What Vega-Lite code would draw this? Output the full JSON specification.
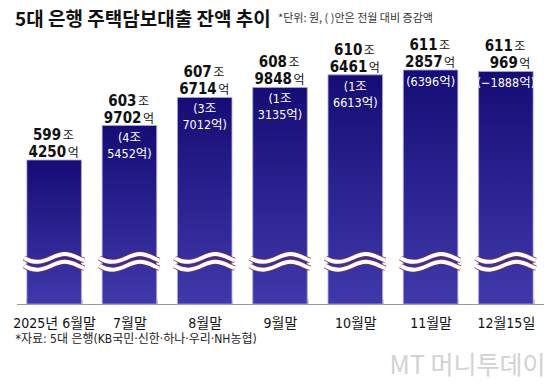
{
  "$schema": "https://vega.github.io/schema/vega-lite/v6.json",
  "width": 527,
  "height": 246,
  "autosize": "none",
  "padding": {"left": 16.5, "right": 16.5, "top": 58, "bottom": 80},
  "background": "white",
  "config": {"view": {"stroke": null}, "font": "Noto Sans CJK KR"},
  "title": {
    "text": "5대 은행 주택담보대출 잔액 추이",
    "anchor": "start",
    "frame": "group",
    "fontSize": 19,
    "fontWeight": "bold",
    "font": "Noto Sans CJK KR",
    "color": "#111111",
    "dx": -1.5,
    "dy": 18,
    "offset": 0
  },
  "data": {
    "values": [
      {"label": "2025년 6월말", "total": 599.425, "jo": "599", "eok": "4250", "chg": ""},
      {"label": "7월말", "total": 603.9702, "jo": "603", "eok": "9702", "chg": "(4조\n5452억)"},
      {"label": "8월말", "total": 607.6714, "jo": "607", "eok": "6714", "chg": "(3조\n7012억)"},
      {"label": "9월말", "total": 608.9848, "jo": "608", "eok": "9848", "chg": "(1조\n3135억)"},
      {"label": "10월말", "total": 610.6461, "jo": "610", "eok": "6461", "chg": "(1조\n6613억)"},
      {"label": "11월말", "total": 611.2857, "jo": "611", "eok": "2857", "chg": "(6396억)"},
      {"label": "12월15일", "total": 611.0969, "jo": "611", "eok": "969", "chg": "(−1888억)"}
    ]
  },
  "encoding": {
    "x": {
      "field": "label",
      "type": "nominal",
      "sort": null,
      "scale": {"paddingInner": 0.276, "paddingOuter": 0.138},
      "axis": {
        "title": "*자료: 5대 은행(KB국민·신한·하나·우리·NH농협)",
        "labelAngle": 0,
        "labelFontSize": 14,
        "labelColor": "#111111",
        "labelFont": "DejaVu Sans Condensed, Noto Sans CJK KR, sans-serif",
        "labelPadding": 17,
        "tickBand": "extent",
        "tickSize": -5,
        "tickColor": "#999999",
        "domainColor": "#999999",
        "titleAnchor": "start",
        "titleAlign": "left",
        "titleX": -1.5,
        "titleY": 38,
        "titleBaseline": "alphabetic",
        "titleFontSize": 12,
        "titleFontWeight": "normal",
        "titleColor": "#222222",
        "titleFont": "DejaVu Sans Condensed, Noto Sans CJK KR, sans-serif"
      }
    }
  },
  "layer": [
    {
      "mark": {
        "type": "bar",
        "fill": {
          "gradient": "linear",
          "x1": 0, "y1": 0, "x2": 0, "y2": 1,
          "stops": [
            {"offset": 0, "color": "#150c75"},
            {"offset": 1, "color": "#4039aa"}
          ]
        },
        "stroke": "#a8a5df",
        "strokeWidth": 0.8
      },
      "encoding": {
        "y": {
          "field": "total",
          "type": "quantitative",
          "scale": {"domain": [580.448, 612.868], "zero": false, "nice": false},
          "axis": {
            "title": "*단위: 원, ( )안은 전월 대비 증감액",
            "titleAngle": 0,
            "titleAlign": "left",
            "titleX": 261,
            "titleY": -37,
            "titleBaseline": "alphabetic",
            "titleFontSize": 11,
            "titleFontWeight": "normal",
            "titleColor": "#333333",
            "titleFont": "Noto Sans CJK KR",
            "labels": false,
            "ticks": false,
            "domain": false,
            "grid": false
          }
        },
        "y2": {"datum": 580.448}
      }
    },
    {
      "mark": {
        "type": "point",
        "shape": "M-1,-0.13C-0.84,-0.03,-0.7,0,-0.55,0C-0.23,0,0.03,-0.26,0.35,-0.26C0.62,-0.26,0.82,-0.1,1,-0.05M-1,0.13C-0.84,0.23,-0.7,0.26,-0.55,0.26C-0.23,0.26,0.03,0,0.35,0C0.62,0,0.82,0.16,1,0.21",
        "size": 3600,
        "filled": false,
        "stroke": "#7e3050",
        "strokeWidth": 5.5,
        "opacity": 1
      },
      "encoding": {
        "y": {"datum": 586, "type": "quantitative", "axis": null}
      }
    },
    {
      "mark": {
        "type": "point",
        "shape": "M-1,-0.13C-0.84,-0.03,-0.7,0,-0.55,0C-0.23,0,0.03,-0.26,0.35,-0.26C0.62,-0.26,0.82,-0.1,1,-0.05M-1,0.13C-0.84,0.23,-0.7,0.26,-0.55,0.26C-0.23,0.26,0.03,0,0.35,0C0.62,0,0.82,0.16,1,0.21",
        "size": 3600,
        "filled": false,
        "stroke": "#ffffff",
        "strokeWidth": 4,
        "opacity": 1
      },
      "encoding": {
        "y": {
          "datum": 586,
          "type": "quantitative",
          "axis": {
            "orient": "right",
            "title": "MT 머니투데이",
            "titleAngle": 0,
            "titleAlign": "right",
            "titleX": 1.5,
            "titleY": 315,
            "titleBaseline": "alphabetic",
            "titleFontSize": 25,
            "titleFontWeight": "normal",
            "titleColor": "#d2d2d2",
            "titleFont": "Noto Sans CJK KR",
            "labels": false,
            "ticks": false,
            "domain": false,
            "grid": false
          }
        }
      }
    },
    {
      "mark": {
        "type": "text",
        "align": "right",
        "baseline": "alphabetic",
        "dx": 7,
        "dy": -20,
        "fontSize": 15,
        "fontWeight": "bold",
        "font": "DejaVu Sans Condensed, Noto Sans CJK KR, sans-serif",
        "color": "#111111"
      },
      "encoding": {
        "y": {"field": "total", "type": "quantitative", "axis": null},
        "text": {"field": "jo"}
      }
    },
    {
      "mark": {
        "type": "text",
        "align": "left",
        "baseline": "alphabetic",
        "dx": 8.5,
        "dy": -20,
        "fontSize": 12,
        "font": "Noto Sans CJK KR",
        "color": "#111111"
      },
      "encoding": {
        "y": {"field": "total", "type": "quantitative", "axis": null},
        "text": {"value": "조"}
      }
    },
    {
      "mark": {
        "type": "text",
        "align": "right",
        "baseline": "alphabetic",
        "dx": 12,
        "dy": -3,
        "fontSize": 15,
        "fontWeight": "bold",
        "font": "DejaVu Sans Condensed, Noto Sans CJK KR, sans-serif",
        "color": "#111111"
      },
      "encoding": {
        "y": {"field": "total", "type": "quantitative", "axis": null},
        "text": {"field": "eok"}
      }
    },
    {
      "mark": {
        "type": "text",
        "align": "left",
        "baseline": "alphabetic",
        "dx": 13.5,
        "dy": -3,
        "fontSize": 12,
        "font": "Noto Sans CJK KR",
        "color": "#111111"
      },
      "encoding": {
        "y": {"field": "total", "type": "quantitative", "axis": null},
        "text": {"value": "억"}
      }
    },
    {
      "mark": {
        "type": "text",
        "align": "center",
        "baseline": "alphabetic",
        "dy": 16,
        "lineHeight": 16,
        "lineBreak": "\n",
        "fontSize": 12.5,
        "font": "DejaVu Sans Condensed, Noto Sans CJK KR, sans-serif",
        "color": "#ffffff"
      },
      "encoding": {
        "y": {"field": "total", "type": "quantitative", "axis": null},
        "text": {"field": "chg"}
      }
    }
  ],
  "resolve": {"axis": {"y": "independent"}}
}
